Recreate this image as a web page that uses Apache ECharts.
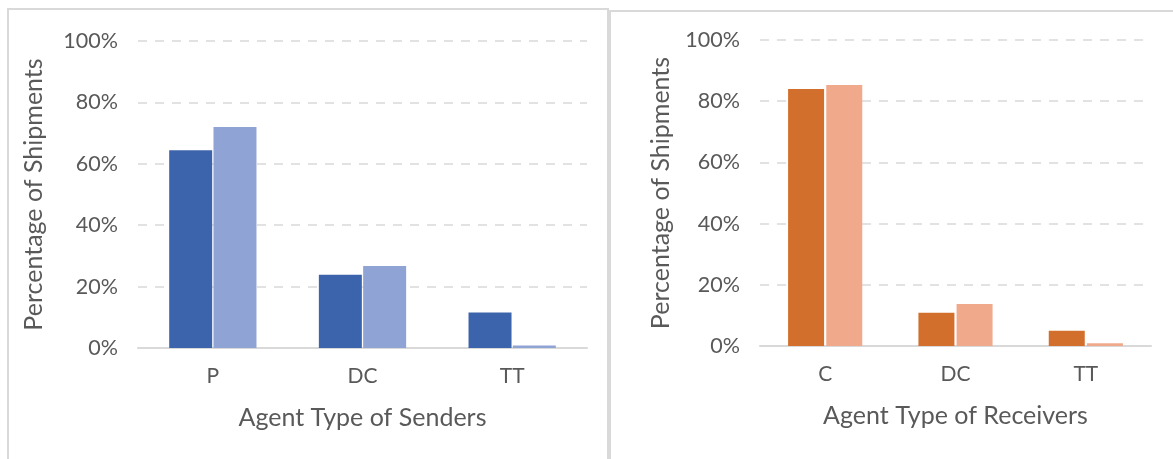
<!DOCTYPE html>
<html>
<head>
<meta charset="utf-8">
<script src="https://cdn.jsdelivr.net/npm/echarts@6/dist/echarts.min.js"></script>
<style>
  html, body { margin: 0; padding: 0; background: #fff; }
  #main { width: 1173px; height: 459px; }
</style>
</head>
<body>
<div id="main"></div>
<script>
// senders (left panel)
const senderCats = ['P', 'DC', 'TT'];
const senderDark = [64.4, 23.9, 11.6];
const senderLight = [72.0, 26.7, 0.8];

// receivers (right panel)
const receiverCats = ['C', 'DC', 'TT'];
const receiverDark = [84.0, 10.9, 5.0];
const receiverLight = [85.3, 13.7, 0.9];

// y ticks 0..100 step 20
const yMin = 0, yMax = 100, yStep = 20;

const FONT = 'Lato';
const GREY = '#595959';

function xAxisFor(idx, cats, title) {
    return {
        type: 'category',
        gridIndex: idx,
        data: cats,
        axisTick: {show: false},
        axisLine: {lineStyle: {color: '#d9d9d9', width: 2}},
        axisLabel: {color: GREY, fontFamily: FONT, fontSize: 21, margin: 18},
        name: title,
        nameLocation: 'middle',
        nameGap: 57,
        nameTextStyle: {color: GREY, fontFamily: FONT, fontSize: 25}
    };
}

function yAxisFor(idx, gap) {
    return {
        type: 'value',
        gridIndex: idx,
        min: yMin,
        max: yMax,
        interval: yStep,
        axisLine: {show: false},
        axisTick: {show: false},
        axisLabel: {
            color: GREY, fontFamily: FONT, fontSize: 21.5, margin: 20,
            formatter: function (v) { return v + '%'; }
        },
        splitLine: {lineStyle: {color: '#d9d9d9', width: 1.5, type: [9, 8]}},
        name: 'Percentage of Shipments',
        nameLocation: 'middle',
        nameGap: gap,
        nameTextStyle: {color: GREY, fontFamily: FONT, fontSize: 25}
    };
}

let myChart = echarts.init(document.getElementById('main'));

let option = {
    animation: false,
    backgroundColor: '#fff',
    graphic: [
        {
            type: 'rect', silent: true,
            shape: {x: 8, y: 9, width: 600, height: 480},
            style: {fill: 'none', stroke: '#d9d9d9', lineWidth: 2}
        },
        {
            type: 'rect', silent: true,
            shape: {x: 610, y: 11, width: 600, height: 480},
            style: {fill: 'none', stroke: '#d9d9d9', lineWidth: 2}
        }
    ],
    grid: [
        {left: 138, right: 586, top: 41, bottom: 111},
        {left: 760, right: 22, top: 40, bottom: 113}
    ],
    xAxis: [
        xAxisFor(0, senderCats, 'Agent Type of Senders'),
        xAxisFor(1, receiverCats, 'Agent Type of Receivers')
    ],
    yAxis: [
        yAxisFor(0, 92),
        yAxisFor(1, 87)
    ],
    series: [
        {
            name: 'Senders A', type: 'bar', xAxisIndex: 0, yAxisIndex: 0,
            barWidth: 43, barGap: '3%',
            itemStyle: {color: '#3c64ac'},
            data: senderDark
        },
        {
            name: 'Senders B', type: 'bar', xAxisIndex: 0, yAxisIndex: 0,
            barWidth: 43, barGap: '3%',
            itemStyle: {color: '#8fa3d4'},
            data: senderLight
        },
        {
            name: 'Receivers A', type: 'bar', xAxisIndex: 1, yAxisIndex: 1,
            barWidth: 36, barGap: '6%',
            itemStyle: {color: '#d36f2c'},
            data: receiverDark
        },
        {
            name: 'Receivers B', type: 'bar', xAxisIndex: 1, yAxisIndex: 1,
            barWidth: 36, barGap: '6%',
            itemStyle: {color: '#f1a98b'},
            data: receiverLight
        }
    ]
};

myChart.setOption(option);
</script>
</body>
</html>
